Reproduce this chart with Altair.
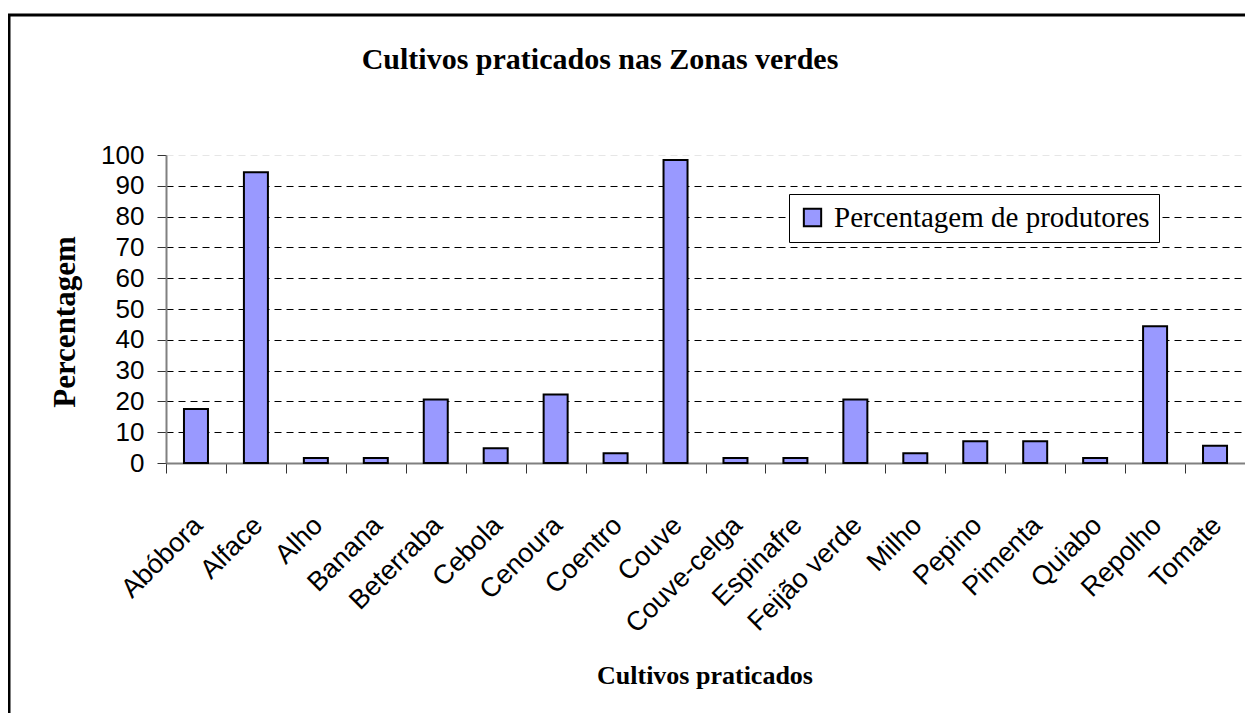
import altair as alt
import pandas as pd

CATEGORIES = ["Abóbora", "Alface", "Alho", "Banana", "Beterraba", "Cebola",
              "Cenoura", "Coentro", "Couve", "Couve-celga", "Espinafre",
              "Feijão verde", "Milho", "Pepino", "Pimenta", "Quiabo",
              "Repolho", "Tomate"]
VALUES = [17.5, 94.4, 1.6, 1.6, 20.6, 4.8, 22.2, 3.2, 98.4, 1.6, 1.6,
          20.6, 3.2, 7.1, 7.1, 1.6, 44.4, 5.6]
SERIES = "Percentagem de produtores"
Y_TICKS = list(range(0, 101, 10))

TITLE = "Cultivos praticados nas Zonas verdes"
X_TITLE = "Cultivos praticados"
Y_TITLE = "Percentagem"

W, H = 1079, 308

df = pd.DataFrame({"cultivo": CATEGORIES, "pct": VALUES, "serie": [SERIES] * len(CATEGORIES)})

sans = "Liberation Sans, Arial, sans-serif"
serif = "Liberation Serif, Times New Roman, serif"

bars = alt.Chart(df).mark_bar(size=24, stroke="black", strokeWidth=2).encode(
    x=alt.X("cultivo:N", sort=CATEGORIES, title=None,
            scale=alt.Scale(paddingInner=0, paddingOuter=0),
            axis=alt.Axis(labelAngle=-45, labelAlign="right", labelBaseline="middle",
                          labelFont=sans, labelFontSize=27, labelColor="black",
                          labelPadding=48, labelOffset=2, tickBand="extent", tickSize=10,
                          tickColor="#333333", domainColor="#808080", domainWidth=2,
                          grid=False, labelOverlap=False)),
    y=alt.Y("pct:Q", title=None,
            scale=alt.Scale(domain=[0, 100], nice=False),
            axis=alt.Axis(values=Y_TICKS, labelFont=sans, labelFontSize=26,
                          labelColor="black", labelPadding=13, tickSize=9,
                          tickColor="#333333", domainColor="#808080", domainWidth=2,
                          grid=True, gridDash=[7, 5], gridWidth=1,
                          gridColor={"expr": "datum.value === 100 ? '#e6e6e6' : '#000000'"})),
    color=alt.Color("serie:N", scale=alt.Scale(range=["#9999FF"]),
                    legend=alt.Legend(title=None, orient="none", legendX=623, legendY=39,
                                      fillColor="white", strokeColor="black", padding=9,
                                      symbolType="square", symbolSize=300,
                                      symbolStrokeColor="black", symbolStrokeWidth=2,
                                      symbolFillColor="#9999FF",
                                      labelFont=serif, labelFontSize=29, labelColor="black",
                                      labelOffset=7, labelLimit=500)),
)

title_df = pd.DataFrame({"t": [TITLE]})
xt_df = pd.DataFrame({"t": [X_TITLE]})
yt_df = pd.DataFrame({"t": [Y_TITLE]})
border_df = pd.DataFrame({"b": [1]})

title = alt.Chart(title_df).mark_text(font=serif, fontSize=30, fontWeight="bold",
                                      align="center", baseline="middle", color="black").encode(
    x=alt.value(434), y=alt.value(-95), text="t:N")
xtitle = alt.Chart(xt_df).mark_text(font=serif, fontSize=26, fontWeight="bold",
                                    align="center", baseline="middle", color="black").encode(
    x=alt.value(539), y=alt.value(521), text="t:N")
ytitle = alt.Chart(yt_df).mark_text(font=serif, fontSize=31, fontWeight="bold", angle=270,
                                    align="center", baseline="middle", color="black").encode(
    x=alt.value(-100), y=alt.value(167), text="t:N")
border = alt.Chart(border_df).mark_rect(fill=None, stroke="black", strokeWidth=3).encode(
    x=alt.value(-157), x2=alt.value(W + 40), y=alt.value(-140), y2=alt.value(H + 400))

chart = alt.layer(border, bars, title, xtitle, ytitle).properties(
    width=W, height=H,
    padding={"left": 158, "top": 147, "right": 0, "bottom": 250},
    autosize=alt.AutoSizeParams(type="none"),
    background="white",
).configure_view(stroke=None)

chart.save("out.html", embed_options={"renderer": "svg", "actions": False})
